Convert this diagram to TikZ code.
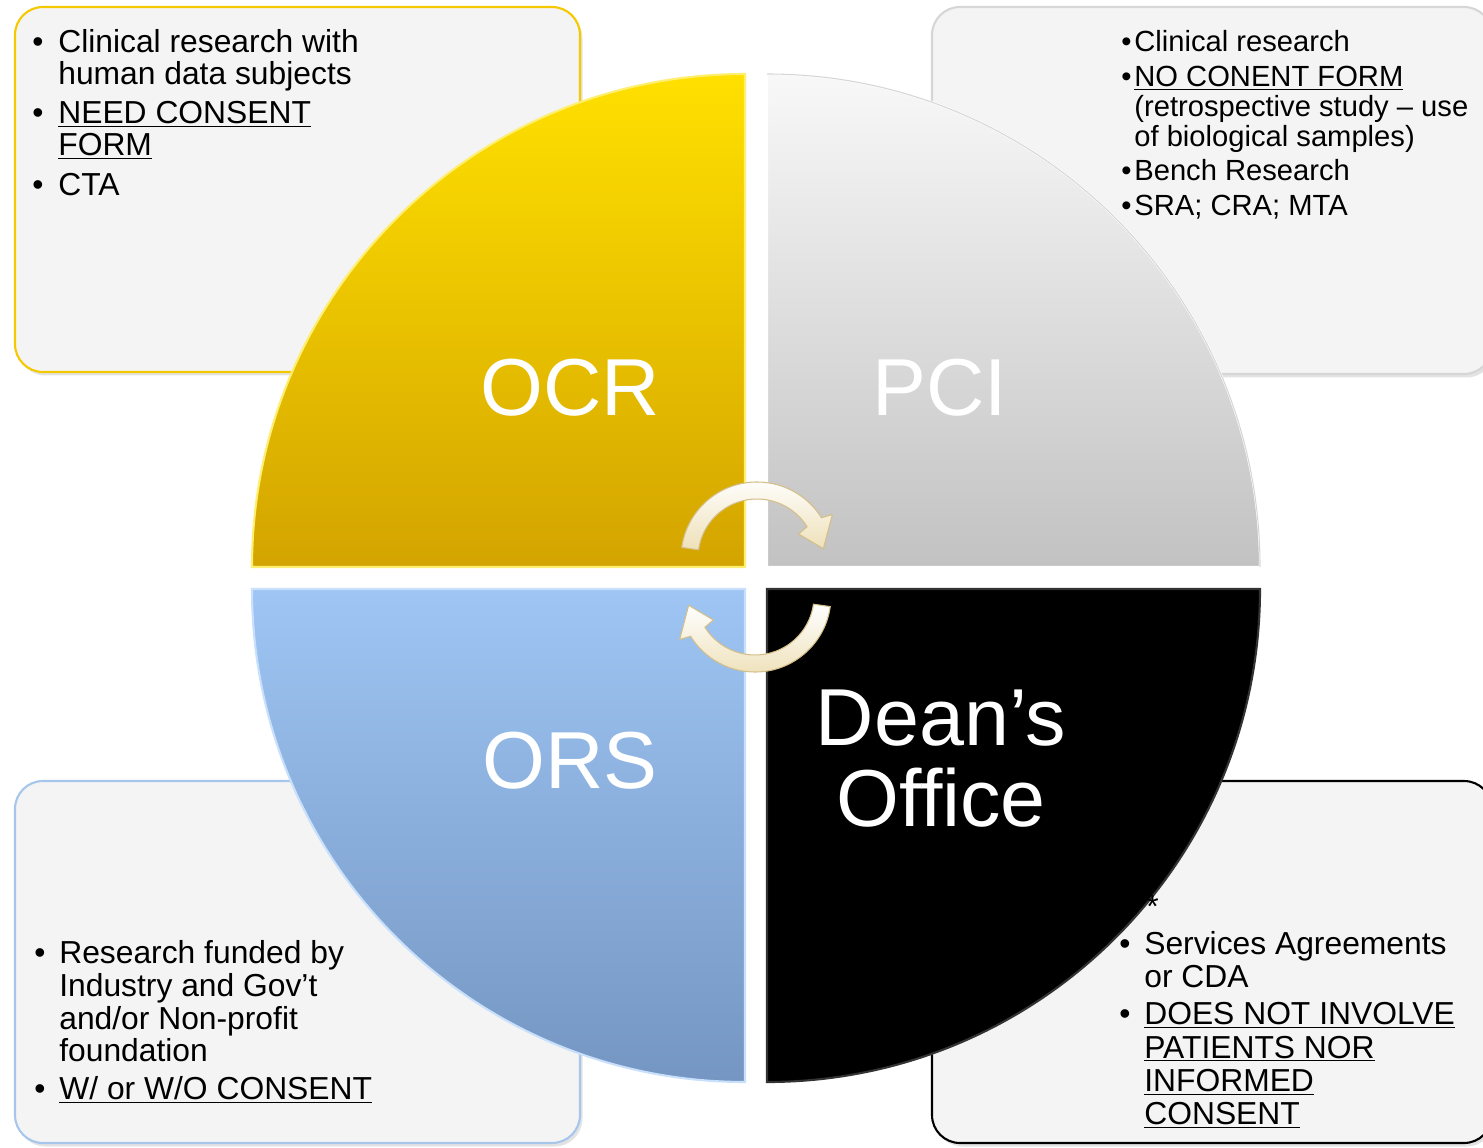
\documentclass[tikz,border=0pt]{standalone}
\usepackage{fontspec}
\setmainfont{Liberation Sans}
\usetikzlibrary{shadows,positioning}
\definecolor{cardgray}{HTML}{F4F4F4}
\definecolor{ocrgold}{HTML}{F5C900}
\definecolor{pcigray}{HTML}{D6D6D6}
\definecolor{orsblue}{HTML}{A6C6EC}
\definecolor{ocrtop}{HTML}{FFE000}
\definecolor{ocrbot}{HTML}{D3A400}
\definecolor{ocredge}{HTML}{FFEF70}
\definecolor{pcitop}{HTML}{F8F8F8}
\definecolor{pcibot}{HTML}{C2C2C2}
\definecolor{orstop}{HTML}{9EC5F4}
\definecolor{orsbot}{HTML}{7596C2}
\definecolor{orsedge}{HTML}{C8E0FB}
\definecolor{arrowcream}{HTML}{EEE0B8}
\definecolor{arrowedge}{HTML}{D4BF88}
\newcommand{\notelist}[2]{\vtop{\hsize=8cm\parindent=0pt\parskip=#1\relax\raggedright #2\par}}
\newcommand{\bitem}[2]{\par\hangindent=#1\hangafter=1\noindent\makebox[#1][l]{\textbullet}#2}

\begin{document}
\begin{tikzpicture}[x=0.02cm, y=0.02cm,
  card/.style={fill=cardgray, rounded corners=0.56cm, line width=1.2pt, drop shadow={shadow xshift=0.05cm, shadow yshift=-0.07cm, opacity=0.22}},
  notes/.style={anchor=north west, inner sep=0pt},
  quad/.style={line width=1.2pt},
  title/.style={text=white, inner sep=0pt, font=\fontsize{46}{46}\selectfont},
  turn/.style={top color=white, bottom color=arrowcream, draw=arrowedge, line width=0.6pt}]
\useasboundingbox (0,0) rectangle (1483,1147);
\clip (0,0) rectangle (1483,1147);
\fill[white] (0,0) rectangle (1483,1147);

\draw[card, draw=ocrgold] (15,775) rectangle (580,1140);
\draw[card, draw=pcigray] (932,773) rectangle (1492,1140);
\draw[card, draw=orsblue] (15,4) rectangle (580,366);
\draw[card, draw=black] (932,4) rectangle (1492,366);

\coordinate (cocr) at (745,580);
\coordinate (cpci) at (767,580);
\coordinate (cors) at (745,558);
\coordinate (cdean) at (767,558);
\shade[quad, top color=ocrtop, bottom color=ocrbot, draw=ocredge] (cocr) -- ++(-493,0) arc[start angle=180, end angle=90, radius=493] -- cycle;
\shade[quad, top color=pcitop, bottom color=pcibot, draw=white] (cpci) -- ++(0,493) arc[start angle=90, end angle=0, radius=493] -- cycle;
\draw[pcigray, line width=0.6pt] (cpci) ++(0,493) arc[start angle=90, end angle=0, radius=493];
\shade[quad, top color=orstop, bottom color=orsbot, draw=orsedge] (cors) -- ++(-493,0) arc[start angle=180, end angle=270, radius=493] -- cycle;
\fill[quad, black, draw=black!80] (cdean) -- ++(493,0) arc[start angle=0, end angle=-90, radius=493] -- cycle;

\node[title, anchor=base] (ocr) at (570,731) {OCR};
\node[title, anchor=base] (pci) at (940,731) {PCI};
\node[title, anchor=base] (ors) at (570,359) {ORS};
\node[title, anchor=north, align=center] (deans) at (941,457) {Dean’s\\Office};

\coordinate (cycletop) at (757,589);
\coordinate (cyclebot) at (755,551);
\shade[turn, shift={(cycletop)}] (172:76) arc[start angle=172, end angle=32, radius=76] -- (30:87) -- (8:67) -- (30:48) -- (32:59) arc[start angle=32, end angle=172, radius=59] -- cycle;
\shade[turn, shift={(cyclebot)}, rotate=180] (172:76) arc[start angle=172, end angle=32, radius=76] -- (30:87) -- (8:67) -- (30:48) -- (32:59) arc[start angle=32, end angle=172, radius=59] -- cycle;

\node[notes, font=\fontsize{18.1}{18.2}\selectfont] (ocrnotes) at (32,1118) {\notelist{4.2pt}{%
\bitem{0.52cm}{Clinical research with\newline human data subjects}
\bitem{0.52cm}{\underline{NEED CONSENT}\newline\underline{FORM}}
\bitem{0.52cm}{CTA}}};
\node[notes, font=\fontsize{16.6}{17}\selectfont] (pcinotes) at (1121,1117) {\notelist{2.8pt}{%
\bitem{0.26cm}{Clinical research}
\bitem{0.26cm}{\underline{NO CONENT FORM}\newline(retrospective study – use\newline of biological samples)}
\bitem{0.26cm}{Bench Research}
\bitem{0.26cm}{SRA; CRA; MTA}}};
\node[notes, font=\fontsize{18.1}{18.7}\selectfont] (orsnotes) at (34,207) {\notelist{2.8pt}{%
\bitem{0.5cm}{Research funded by\newline Industry and Gov’t\newline and/or Non-profit\newline foundation}
\bitem{0.5cm}{\underline{W/ or W/O CONSENT}}}};
\node[notes, font=\fontsize{18.1}{19}\selectfont] (deannotes) at (1119,216) {\notelist{2pt}{%
\bitem{0.5cm}{Services Agreements\newline or CDA}
\bitem{0.5cm}{\underline{DOES NOT INVOLVE}\newline\underline{PATIENTS NOR}\newline\underline{INFORMED}\newline\underline{CONSENT}}}};
\node[anchor=base west, inner sep=0pt, font=\fontsize{18.1}{18.6}\selectfont] (star) at (1146,230) {*};
\end{tikzpicture}
\end{document}
